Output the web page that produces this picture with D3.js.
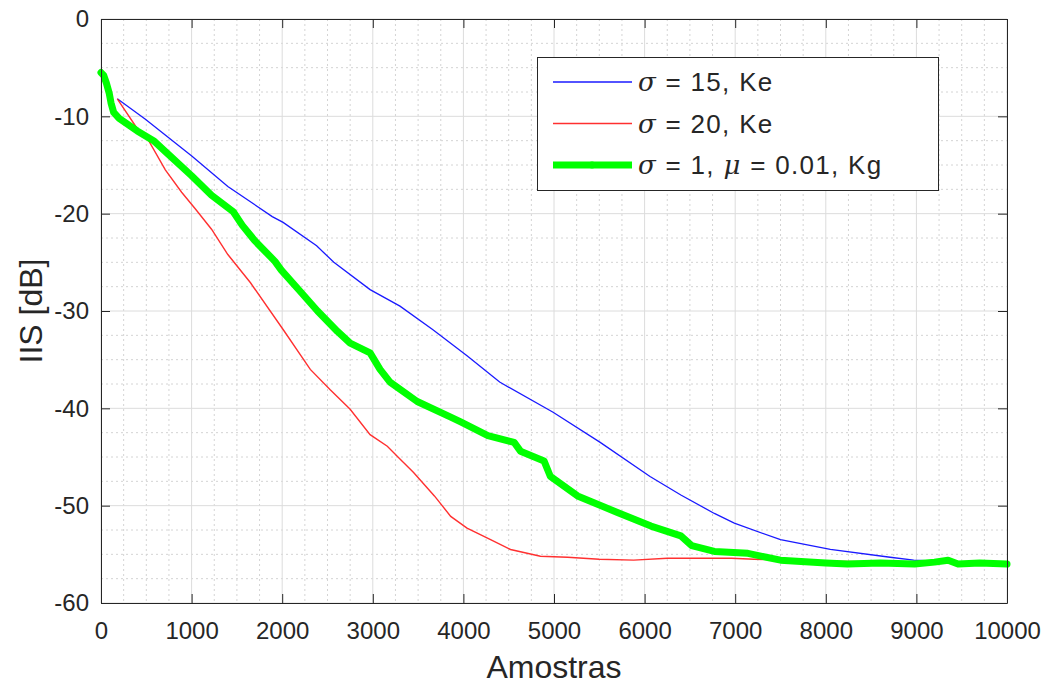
<!DOCTYPE html>
<html>
<head>
  <meta charset="utf-8">
  <script src="https://d3js.org/d3.v7.min.js"></script>
  <style>
    body { margin: 0; background: #fff; }
    text { font-family: "Liberation Sans", Arial, Helvetica, sans-serif; fill: #262626; }
  </style>
</head>
<body>
<script>
  // --- data ---
  var blueX = [180, 490, 1005, 1400, 1890, 2010, 2380, 2570, 2970, 3300, 3660, 4040, 4400, 4990, 5510, 6060, 6400, 6770, 6990, 7500, 8050, 8710, 8970, 9500, 10000];
  var blueY = [-8.2, -10.3, -14.1, -17.2, -20.3, -20.9, -23.3, -25.0, -27.8, -29.5, -31.9, -34.6, -37.3, -40.4, -43.5, -47.0, -48.9, -50.8, -51.8, -53.5, -54.5, -55.3, -55.6, -55.8, -55.9];

  var redX = [180, 410, 520, 710, 890, 1040, 1220, 1400, 1650, 2010, 2310, 2530, 2750, 2970, 3160, 3300, 3450, 3680, 3860, 4040, 4300, 4520, 4850, 5150, 5500, 5880, 6250, 6590, 6960, 7210, 8000, 9000, 10000];
  var redY = [-8.2, -11.4, -12.4, -15.5, -17.8, -19.5, -21.6, -24.2, -27.1, -31.9, -36.0, -38.1, -40.1, -42.7, -43.9, -45.2, -46.6, -49.0, -51.1, -52.3, -53.5, -54.5, -55.2, -55.3, -55.5, -55.6, -55.4, -55.4, -55.4, -55.5, -55.7, -55.8, -55.9];

  var greenX = [0, 30, 60, 90, 110, 140, 200, 400, 580, 720, 1000, 1220, 1460, 1560, 1700, 1920, 1990, 2200, 2390, 2610, 2750, 2970, 3080, 3190, 3490, 3860, 3970, 4270, 4560, 4630, 4890, 4960, 5260, 5700, 6070, 6400, 6520, 6770, 7140, 7500, 8000, 8240, 8600, 8980, 9200, 9350, 9460, 9700, 10000];
  var greenY = [-5.5, -5.8, -6.6, -7.6, -8.6, -9.6, -10.2, -11.5, -12.5, -13.7, -16.1, -18.1, -19.8, -21.2, -22.8, -24.9, -25.8, -28.0, -30.0, -32.1, -33.3, -34.3, -36.0, -37.3, -39.3, -40.9, -41.4, -42.8, -43.5, -44.4, -45.4, -47.0, -49.0, -50.7, -52.1, -53.1, -54.1, -54.7, -54.9, -55.6, -55.9, -56.0, -55.9, -56.0, -55.8, -55.6, -56.0, -55.9, -56.0];

  var xTicks = [0, 1000, 2000, 3000, 4000, 5000, 6000, 7000, 8000, 9000, 10000];
  var yTicks = [0, -10, -20, -30, -40, -50, -60];

  var W = 1044, H = 686;
  var m = {left: 101, top: 19, right: 37, bottom: 83};
  var w = W - m.left - m.right, h = H - m.top - m.bottom;

  var svg = d3.select("body").append("svg")
      .attr("width", W).attr("height", H);
  var g = svg.append("g").attr("transform", "translate(" + m.left + "," + m.top + ")");

  var x = d3.scaleLinear().domain([0, 10000]).range([0, w]);
  var y = d3.scaleLinear().domain([-60, 0]).range([h, 0]);
  var fmt = function(d) { return String(d); };   // plain hyphen, no thousands comma

  // minor grid (dotted)
  var xMinor = d3.range(0, 10001, 250).filter(function(d) { return d % 1000 !== 0; });
  var yMinor = d3.range(-60, 0.1, 2.5).filter(function(d) { return d % 10 !== 0; });
  g.selectAll(".xminor").data(xMinor).enter().append("line")
      .attr("x1", x).attr("x2", x).attr("y1", 0).attr("y2", h)
      .attr("stroke", "#d4d4d4").attr("stroke-dasharray", "2,3");
  g.selectAll(".yminor").data(yMinor).enter().append("line")
      .attr("y1", y).attr("y2", y).attr("x1", 0).attr("x2", w)
      .attr("stroke", "#d4d4d4").attr("stroke-dasharray", "2,3");

  // major grid
  g.selectAll(".xmajor").data(xTicks).enter().append("line")
      .attr("x1", x).attr("x2", x).attr("y1", 0).attr("y2", h)
      .attr("stroke", "#dcdcdc");
  g.selectAll(".ymajor").data(yTicks).enter().append("line")
      .attr("y1", y).attr("y2", y).attr("x1", 0).attr("x2", w)
      .attr("stroke", "#dcdcdc");

  // series
  function pts(xs, ys) { return xs.map(function(d, i) { return [d, ys[i]]; }); }
  var line = d3.line().x(function(d) { return x(d[0]); }).y(function(d) { return y(d[1]); });

  g.append("path").datum(pts(blueX, blueY)).attr("d", line)
      .attr("fill", "none").attr("stroke", "#1a1aff").attr("stroke-width", 1.3);
  g.append("path").datum(pts(redX, redY)).attr("d", line)
      .attr("fill", "none").attr("stroke", "#ff3030").attr("stroke-width", 1.4);
  g.append("path").datum(pts(greenX, greenY)).attr("d", line)
      .attr("fill", "none").attr("stroke", "#00ff00").attr("stroke-width", 7)
      .attr("stroke-linejoin", "round").attr("stroke-linecap", "round");

  // axes, MATLAB style: ticks inside, box on
  var ax = "#262626";
  function style(s) {
    s.select(".domain").attr("stroke", ax);
    s.selectAll(".tick line").attr("stroke", ax);
    s.selectAll("text").attr("font-size", 24).attr("fill", ax)
      .style("font-family", '"Liberation Sans", Arial, sans-serif');
  }
  g.append("g").attr("transform", "translate(0," + h + ")")
      .call(d3.axisBottom(x).tickValues(xTicks).tickFormat(fmt).tickSizeInner(-9).tickSizeOuter(0).tickPadding(19))
      .call(style);
  g.append("g")
      .call(d3.axisLeft(y).tickValues(yTicks).tickFormat(fmt).tickSizeInner(-9).tickSizeOuter(0).tickPadding(12))
      .call(style);
  g.append("g")
      .call(d3.axisTop(x).tickValues(xTicks).tickSizeInner(-9).tickSizeOuter(0).tickFormat(""))
      .call(style);
  g.append("g").attr("transform", "translate(" + w + ",0)")
      .call(d3.axisRight(y).tickValues(yTicks).tickSizeInner(-9).tickSizeOuter(0).tickFormat(""))
      .call(style);

  // axis labels
  svg.append("text")
      .attr("x", m.left + w / 2).attr("y", 678)
      .attr("text-anchor", "middle").attr("font-size", 32)
      .text("Amostras");
  svg.append("text")
      .attr("transform", "translate(42," + (m.top + h / 2) + ") rotate(-90)")
      .attr("text-anchor", "middle").attr("font-size", 32)
      .text("IIS [dB]");

  // legend
  var legendNames = [
    [["σ", true], [" = 15, Ke", false]],
    [["σ", true], [" = 20, Ke", false]],
    [["σ", true], [" = 1, ", false], ["μ", true], [" = 0.01, Kg", false]]
  ];
  var legendColors = ["#1a1aff", "#ff3030", "#00ff00"];
  var legendWidths = [1.3, 1.4, 7];

  var lg = svg.append("g");
  lg.append("rect")
      .attr("x", 537.5).attr("y", 57.5).attr("width", 401).attr("height", 133)
      .attr("fill", "#fff").attr("stroke", ax);
  legendNames.forEach(function(parts, i) {
    var ly = 82 + i * 41.5;
    lg.append("line")
        .attr("x1", 553).attr("x2", 632).attr("y1", ly).attr("y2", ly)
        .attr("stroke", legendColors[i]).attr("stroke-width", legendWidths[i]);
    if (i === 2) {
      lg.append("circle").attr("cx", 592).attr("cy", ly).attr("r", 3.5).attr("fill", "#00ff00");
    }
    var t = lg.append("text").attr("x", 638).attr("y", ly + 9)
        .attr("font-size", 26).attr("letter-spacing", 1.3);
    parts.forEach(function(p) {
      t.append("tspan").text(p[0])
          .attr("font-style", p[1] ? "italic" : null)
          .style("font-family", p[1] ? '"DejaVu Serif", "Liberation Serif", serif' : null);
    });
  });
</script>
</body>
</html>
